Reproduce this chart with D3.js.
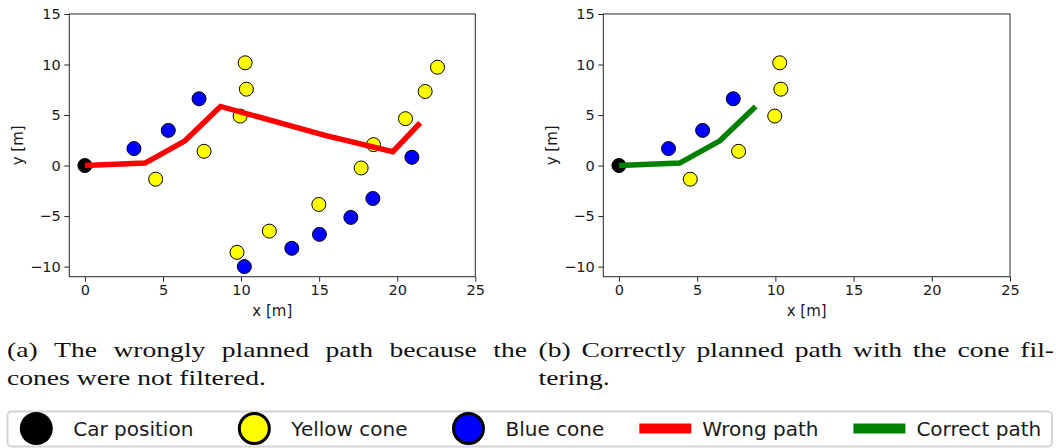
<!DOCTYPE html>
<html>
<head>
<meta charset="utf-8">
<script src="https://cdn.jsdelivr.net/npm/d3@7"></script>
<style>
  html, body { margin: 0; padding: 0; background: #fff; }
  svg { display: block; }
</style>
</head>
<body>
<svg id="chart" width="1056" height="448"></svg>
<script>
// ---------------- DATA ----------------
const carPosition = [[0, 0]];

const yellowConesAll = [
  [4.53, -1.35], [7.63, 1.41], [9.94, 4.9], [10.26, 10.17], [10.34, 7.56],
  [9.74, -8.59], [11.81, -6.49], [14.98, -3.85], [17.69, -0.24], [18.48, 2.07],
  [20.53, 4.64], [21.79, 7.33], [22.58, 9.73]
];
const blueConesAll = [
  [3.14, 1.68], [5.34, 3.48], [7.31, 6.61], [10.21, -10.0], [13.25, -8.19],
  [15.02, -6.81], [17.03, -5.13], [18.44, -3.26], [20.94, 0.82]
];
const wrongPath = [
  [0, 0], [3.85, 0.25], [6.41, 2.45], [8.68, 5.85], [15.38, 2.99], [19.72, 1.38], [21.47, 4.22]
];

const yellowConesFiltered = [
  [4.56, -1.35], [7.65, 1.41], [9.96, 4.9], [10.28, 10.17], [10.35, 7.56]
];
const blueConesFiltered = [
  [3.17, 1.68], [5.35, 3.48], [7.31, 6.61]
];
const correctPath = [
  [0, 0], [3.88, 0.25], [6.45, 2.45], [8.74, 5.85]
];

const xTicks = [0, 5, 10, 15, 20, 25];
const yTicks = [-10, -5, 0, 5, 10, 15];
const xDomain = [-1, 25];
const yDomain = [-11, 15];

const captionA = ["(a) The wrongly planned path because the", "cones were not filtered."];
const captionB = ["(b) Correctly planned path with the cone fil-", "tering."];

const legendItems = [
  { label: "Car position", type: "circle", fill: "#000000" },
  { label: "Yellow cone", type: "circle", fill: "#ffff00" },
  { label: "Blue cone", type: "circle", fill: "#0000ff" },
  { label: "Wrong path", type: "line", fill: "#ff0000" },
  { label: "Correct path", type: "line", fill: "#008000" }
];

// ---------------- DRAW ----------------
const svg = d3.select("#chart");
const FONT = "'DejaVu Sans', sans-serif";
const AX = "#262626";
const TICK_SIZE = 14.5;
const LABEL_SIZE = 15;

function panel(left, right, yellow, blue, path, pathColor) {
  const top = 14, bottom = 276.7;
  const x = d3.scaleLinear().domain(xDomain).range([left, right]);
  const y = d3.scaleLinear().domain(yDomain).range([bottom, top]);
  const g = svg.append("g");

  const xa = g.append("g").attr("transform", `translate(0,${bottom})`)
    .call(d3.axisBottom(x).tickValues(xTicks).tickSize(5).tickPadding(3.5).tickSizeOuter(0));
  const ya = g.append("g").attr("transform", `translate(${left},0)`)
    .call(d3.axisLeft(y).tickValues(yTicks).tickSize(5).tickPadding(3.5).tickSizeOuter(0));
  [xa, ya].forEach(a => {
    a.attr("font-size", TICK_SIZE).attr("font-family", FONT);
    a.select(".domain").remove();
    a.selectAll("line").attr("stroke", AX).attr("stroke-width", 1);
    a.selectAll("text").attr("font-family", FONT).attr("font-size", TICK_SIZE).attr("fill", "#1a1a1a");
  });

  // frame
  g.append("rect").attr("x", left).attr("y", top)
    .attr("width", right - left).attr("height", bottom - top)
    .attr("fill", "none").attr("stroke", AX).attr("stroke-width", 1);

  const cones = g.append("g");
  cones.selectAll(".y").data(yellow).join("circle")
    .attr("cx", d => x(d[0])).attr("cy", d => y(d[1])).attr("r", 7)
    .attr("fill", "#ffff00").attr("stroke", "#000").attr("stroke-width", 1);
  cones.selectAll(".b").data(blue).join("circle")
    .attr("cx", d => x(d[0])).attr("cy", d => y(d[1])).attr("r", 7)
    .attr("fill", "#0000ff").attr("stroke", "#000").attr("stroke-width", 1);
  cones.selectAll(".c").data(carPosition).join("circle")
    .attr("cx", d => x(d[0])).attr("cy", d => y(d[1])).attr("r", 7)
    .attr("fill", "#000").attr("stroke", "#000").attr("stroke-width", 1);

  g.append("path").datum(path)
    .attr("d", d3.line().x(d => x(d[0])).y(d => y(d[1])))
    .attr("fill", "none").attr("stroke", pathColor).attr("stroke-width", 5.5)
    .attr("stroke-linejoin", "miter").attr("stroke-linecap", "butt");

  g.append("text").attr("x", (left + right) / 2).attr("y", 316)
    .attr("text-anchor", "middle").attr("font-family", FONT).attr("font-size", LABEL_SIZE)
    .attr("fill", "#1a1a1a").text("x [m]");
  g.append("text")
    .attr("transform", `translate(${left - 51},${(top + bottom) / 2}) rotate(-90)`)
    .attr("text-anchor", "middle").attr("dominant-baseline", "central")
    .attr("font-family", FONT).attr("font-size", LABEL_SIZE)
    .attr("fill", "#1a1a1a").text("y [m]");
}

panel(69.3, 475.3, yellowConesAll, blueConesAll, wrongPath, "#ff0000");
panel(603.3, 1010, yellowConesFiltered, blueConesFiltered, correctPath, "#008000");

// ---------------- CAPTIONS (justified) ----------------
const SERIF = "'Liberation Serif', 'DejaVu Serif', serif";
const CAP_SIZE = 21;
// measure a reference line to set horizontal stretch (LaTeX CM is wider than Times)
const probe = svg.append("text").attr("font-family", SERIF).attr("font-size", CAP_SIZE).text(captionA[1]);
const stretch = 259 / probe.node().getComputedTextLength();
probe.remove();

function caption(lines, x0, x1) {
  const g = svg.append("g").attr("font-family", SERIF).attr("font-size", CAP_SIZE).attr("fill", "#111")
    .attr("transform", `translate(${x0},0) scale(${stretch},1)`);
  const baselines = [356.7, 385];
  const w = (x1 - x0) / stretch;
  lines.forEach((line, i) => {
    const words = line.split(" ");
    if (i < lines.length - 1) {
      const texts = words.map(wd => g.append("text").attr("y", baselines[i]).text(wd));
      const widths = texts.map(t => t.node().getComputedTextLength());
      const total = d3.sum(widths);
      const gap = (w - total) / (words.length - 1);
      let cx = 0;
      texts.forEach((t, k) => { t.attr("x", cx); cx += widths[k] + gap; });
    } else {
      g.append("text").attr("x", 0).attr("y", baselines[i]).text(line);
    }
  });
}
caption(captionA, 7, 527);
caption(captionB, 538.5, 1054);

// ---------------- LEGEND ----------------
const lg = svg.append("g");
lg.append("rect").attr("x", 7.5).attr("y", 411.5).attr("width", 1044.5).attr("height", 35)
  .attr("rx", 4).attr("fill", "#fff").attr("stroke", "#d4d4d4").attr("stroke-width", 2);
const LCY = 428.5;
let lx = 10.3;
const HANDLE = 52, PAD = 11, COLSP = 35;
legendItems.forEach(item => {
  if (item.type === "circle") {
    const isCar = item.fill === "#000000";
    lg.append("circle").attr("cx", lx + HANDLE / 2).attr("cy", LCY)
      .attr("r", isCar ? 16.5 : 15)
      .attr("fill", item.fill).attr("stroke", "#000").attr("stroke-width", isCar ? 0 : 3);
  } else {
    lg.append("line").attr("x1", lx).attr("x2", lx + HANDLE)
      .attr("y1", LCY).attr("y2", LCY)
      .attr("stroke", item.fill).attr("stroke-width", 10);
  }
  const t = lg.append("text").attr("x", lx + HANDLE + PAD).attr("y", LCY)
    .attr("dominant-baseline", "central")
    .attr("font-family", FONT).attr("font-size", 20).attr("fill", "#1a1a1a").text(item.label);
  lx += HANDLE + PAD + t.node().getComputedTextLength() + COLSP;
});
</script>
</body>
</html>
